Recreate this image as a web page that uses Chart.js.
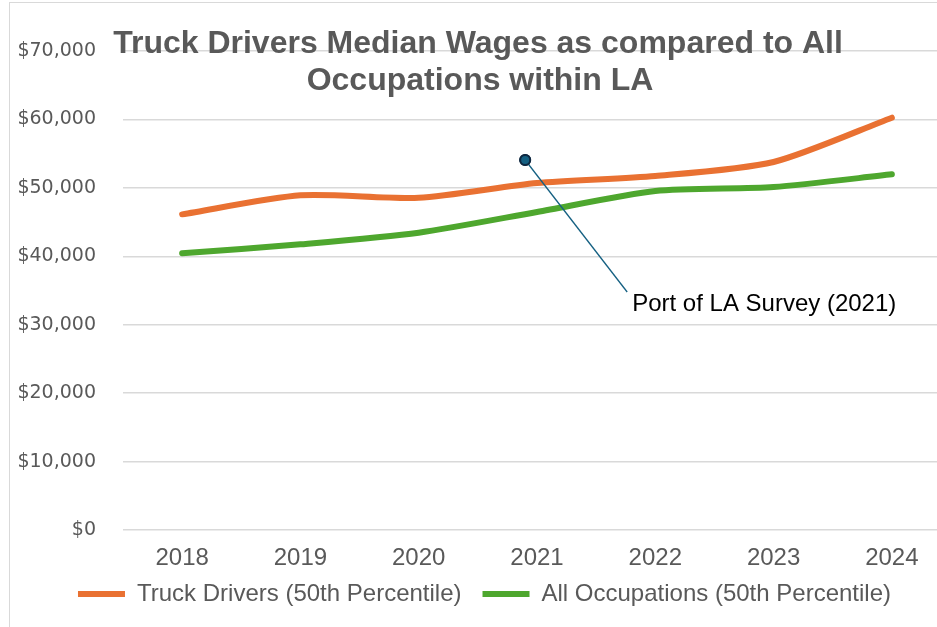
<!DOCTYPE html>
<html>
<head>
<meta charset="utf-8">
<script src="https://cdn.jsdelivr.net/npm/chart.js@4"></script>
<style>
  html, body { margin: 0; padding: 0; background: #fff; overflow: hidden; }
  #frame { position: absolute; left: 9px; top: 2px; width: 1000px; height: 700px;
           border-left: 1px solid #d9d9d9; border-top: 1px solid #d9d9d9; }
  #wrap { position: absolute; left: 0; top: 0; width: 951px; height: 627px; }
</style>
</head>
<body>
<div id="frame"></div>
<div id="wrap"><canvas id="wages"></canvas></div>
<script>
var ORANGE = "#E97132";
var GREEN = "#4EA72E";
var NAVY = "#156082";
var NAVY_DARK = "#0E2841";
var GREY_TEXT = "#595959";
var GRID = "#d9d9d9";

let YEARS = ["2018", "2019", "2020", "2021", "2022", "2023", "2024"];
let TRUCK = [46130, 48910, 48560, 50710, 51730, 53780, 60250];
let ALL_OCC = [40430, 41750, 43450, 46470, 49540, 50120, 51980];
let SURVEY = [{x: 2020.9, y: 54070}];
let SURVEY_LABEL = "Port of LA Survey (2021)";
let TITLE = ["Truck Drivers Median Wages as compared to All", "Occupations within LA"];
let SERIES = ["Truck Drivers (50th Percentile)", "All Occupations (50th Percentile)"];

// title sits on top of the plot, like the excel original
var titlePlugin = {
  id: "overTitle",
  afterDraw: function(chart) {
    var c = chart.ctx;
    c.save();
    c.fillStyle = GREY_TEXT;
    c.font = "bold 32px 'Liberation Sans', Arial, sans-serif";
    c.textAlign = "center";
    c.textBaseline = "alphabetic";
    c.fillText(TITLE[0], 478, 53);
    c.fillText(TITLE[1], 480, 90);
    c.restore();
  }
};

// nudge the legend box: a bit right of centre and closer to the axis labels
var legendShift = {
  id: "legendShift",
  afterLayout: function(chart) {
    var lg = chart.legend;
    if (!lg) return;
    var h = lg.bottom - lg.top;
    lg.left = 18;
    lg.top = 561;
    lg.bottom = 561 + h;
  }
};

// leader line + label for the survey point
var calloutPlugin = {
  id: "callout",
  afterDatasetsDraw: function(chart) {
    var pt = chart.getDatasetMeta(2).data[0];
    if (!pt) return;
    var c = chart.ctx;
    c.save();
    c.strokeStyle = NAVY;
    c.lineWidth = 1.3;
    c.beginPath();
    c.moveTo(pt.x, pt.y);
    c.lineTo(pt.x + 102, pt.y + 132);
    c.stroke();
    c.fillStyle = "#000";
    c.font = "24px 'Liberation Sans', Arial, sans-serif";
    c.textAlign = "left";
    c.textBaseline = "alphabetic";
    c.fillText(SURVEY_LABEL, pt.x + 107, pt.y + 151);
    c.restore();
    pt.draw(c);
  }
};

var ctx = document.getElementById("wages").getContext("2d");
var lineChart = new Chart(ctx, {
  type: "line",
  data: {
    labels: YEARS,
    datasets: [{
      label: SERIES[0],
      data: TRUCK,
      borderColor: ORANGE,
      backgroundColor: ORANGE,
      borderWidth: 6,
      borderCapStyle: "round",
      pointRadius: 0,
      tension: 0.25
    }, {
      label: SERIES[1],
      data: ALL_OCC,
      borderColor: GREEN,
      backgroundColor: GREEN,
      borderWidth: 6,
      borderCapStyle: "round",
      pointRadius: 0,
      tension: 0.25
    }, {
      type: "scatter",
      label: SURVEY_LABEL,
      data: SURVEY,
      xAxisID: "xs",
      pointRadius: 5,
      pointBorderWidth: 2,
      backgroundColor: NAVY,
      borderColor: NAVY_DARK,
      showLine: false
    }]
  },
  options: {
    responsive: true,
    maintainAspectRatio: false,
    animation: false,
    layout: { autoPadding: false, padding: { left: 0, top: 51, right: 0, bottom: 0 } },
    scales: {
      x: {
        offset: true,
        grid: { display: false },
        border: { display: false },
        ticks: { color: GREY_TEXT, padding: 6, font: { family: "'Liberation Sans', Arial, sans-serif", size: 24 } },
        afterFit: function(s) { s.height = 42; }
      },
      xs: {
        type: "linear",
        display: false,
        min: 2017.5,
        max: 2024.5
      },
      y: {
        min: 0,
        max: 70000,
        grid: { color: GRID, lineWidth: 1.5, drawTicks: false },
        border: { display: false },
        ticks: {
          stepSize: 10000,
          padding: 27,
          color: GREY_TEXT,
          font: { family: "'DejaVu Sans', sans-serif", size: 19 },
          callback: function(v) { return "$" + v.toLocaleString("en-US"); }
        },
        afterFit: function(s) { s.width = 123; }
      }
    },
    plugins: {
      title: { display: false },
      tooltip: { enabled: false },
      legend: {
        position: "bottom",
        labels: {
          filter: function(item) { return item.datasetIndex < 2; },
          usePointStyle: true,
          pointStyle: "line",
          pointStyleWidth: 47,
          padding: 21,
          color: GREY_TEXT,
          font: { family: "'Liberation Sans', Arial, sans-serif", size: 24 }
        }
      }
    }
  },
  plugins: [titlePlugin, legendShift, calloutPlugin]
});
</script>
</body>
</html>
